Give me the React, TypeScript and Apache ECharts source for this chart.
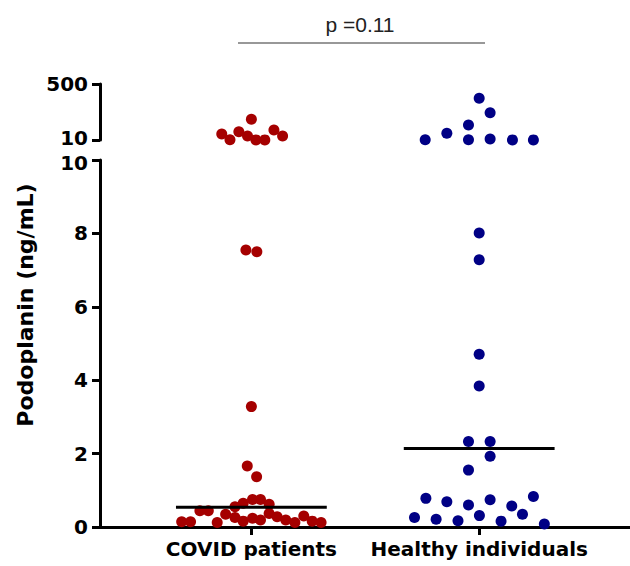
import React, { useEffect, useRef } from "react";
import * as echarts from "echarts";

const categories = ["COVID patients", "Healthy individuals"];

// COVID patients: values (ng/mL) and horizontal beeswarm offsets (category units)
const covidValues = [
  191, 62, 12, 83, 45, 11, 11, 98, 45,
  7.55, 7.5, 3.28, 1.66, 1.37,
  0.75, 0.75, 0.65, 0.55, 0.62, 0.44, 0.44, 0.35, 0.26, 0.16, 0.24,
  0.19, 0.37, 0.28, 0.19, 0.12, 0.3, 0.16, 0.12, 0.14, 0.14, 0.12,
];
const covidOffsets = [
  0.0, -0.13, -0.094, -0.055, -0.017, 0.02, 0.059, 0.099, 0.137,
  -0.024, 0.024, 0.0, -0.018, 0.023,
  0.005, 0.04, -0.036, -0.072, 0.078, -0.226, -0.189, -0.113, -0.072, -0.036, 0.005,
  0.04, 0.078, 0.113, 0.151, 0.191, 0.23, 0.267, 0.306, -0.306, -0.267, -0.15,
];

// Healthy individuals
const healthyValues = [
  375, 249, 141, 69, 12, 12, 19, 11, 11,
  8.01, 7.28, 4.71, 3.84, 2.33, 2.33, 1.93, 1.55,
  0.78, 0.69, 0.6, 0.74, 0.57, 0.83, 0.26, 0.21, 0.17, 0.31, 0.16, 0.35, 0.08,
];
const healthyOffsets = [
  0.0, 0.048, -0.047, -0.142, -0.237, -0.047, 0.048, 0.146, 0.238,
  0.0, 0.0, 0.0, 0.0, -0.047, 0.048, 0.048, -0.047,
  -0.234, -0.142, -0.047, 0.048, 0.143, 0.238, -0.284, -0.189, -0.093, 0.001, 0.096, 0.19, 0.286,
];

const centerValues = [0.54, 2.14];
const lowerTicks = [0, 2, 4, 6, 8, 10];
const upperTicks = [10, 500];
const pValueLabel = "p =0.11";
const yTitle = "Podoplanin (ng/mL)";

const COVID_COLOR = "#A50000";
const HEALTHY_COLOR = "#000085";
const BREAK = 10;
const HALF_WIDTH = 0.331;

function points(values: number[], offsets: number[], idx: number, upper: boolean) {
  const out: number[][] = [];
  values.forEach((v, i) => {
    if (upper ? v > BREAK : v <= BREAK) out.push([idx + 1 + offsets[i], v]);
  });
  return out;
}

export default function App() {
  const ref = useRef<HTMLDivElement>(null);
  useEffect(() => {
    if (!ref.current) return;
    const chart = echarts.init(ref.current, null, { renderer: "svg" });
    const boldFont = "DejaVu Sans";
    const labelStyle = {
      fontFamily: boldFont,
      fontWeight: "bold" as const,
      fontSize: 20,
      color: "#000",
    };
    const axisLine = { show: true, lineStyle: { color: "#000", width: 3 } };
    const xCommon = {
      type: "value",
      min: 0.3355,
      max: 2.662,
      splitLine: { show: false },
    };
    const scatterCommon = {
      type: "scatter",
      symbol: "circle",
      symbolSize: 11,
      clip: false,
    };
    const option: any = {
      animation: false,
      grid: [
        { left: 100, top: 84, height: 56, right: 0 },
        { left: 100, top: 160, height: 367, right: 0 },
      ],
      xAxis: [
        { ...xCommon, gridIndex: 0, show: false },
        {
          ...xCommon,
          gridIndex: 1,
          axisLine,
          axisTick: {
            show: true,
            length: 8,
            customValues: [1, 2],
            lineStyle: { color: "#000", width: 3 },
          },
          axisLabel: {
            customValues: [1, 2],
            formatter: (v: number) => categories[Math.round(v) - 1],
            ...labelStyle,
            margin: 12,
          },
        },
      ],
      yAxis: [
        {
          type: "value",
          gridIndex: 0,
          min: 10,
          max: 500,
          splitLine: { show: false },
          axisLine,
          axisTick: {
            show: true,
            length: 8,
            customValues: upperTicks,
            lineStyle: { color: "#000", width: 3 },
          },
          axisLabel: {
            customValues: upperTicks,
            ...labelStyle,
            margin: 12,
            formatter: (v: number) => (v === BREAK ? `{up|${v}}` : `${v}`),
            rich: { up: { ...labelStyle, padding: [0, 0, 5, 0] } },
          },
        },
        {
          type: "value",
          gridIndex: 1,
          min: 0,
          max: 10,
          interval: 2,
          splitLine: { show: false },
          axisLine,
          axisTick: {
            show: true,
            length: 8,
            customValues: lowerTicks,
            lineStyle: { color: "#000", width: 3 },
          },
          axisLabel: {
            customValues: lowerTicks,
            ...labelStyle,
            margin: 12,
            formatter: (v: number) => (v === BREAK ? `{dn|${v}}` : `${v}`),
            rich: { dn: { ...labelStyle, padding: [5, 0, 0, 0] } },
          },
        },
      ],
      series: [
        {
          ...scatterCommon,
          xAxisIndex: 0,
          yAxisIndex: 0,
          itemStyle: { color: COVID_COLOR, opacity: 1 },
          data: points(covidValues, covidOffsets, 0, true),
        },
        {
          ...scatterCommon,
          xAxisIndex: 0,
          yAxisIndex: 0,
          itemStyle: { color: HEALTHY_COLOR, opacity: 1 },
          data: points(healthyValues, healthyOffsets, 1, true),
        },
        {
          ...scatterCommon,
          xAxisIndex: 1,
          yAxisIndex: 1,
          itemStyle: { color: COVID_COLOR, opacity: 1 },
          data: points(covidValues, covidOffsets, 0, false),
        },
        {
          ...scatterCommon,
          xAxisIndex: 1,
          yAxisIndex: 1,
          itemStyle: { color: HEALTHY_COLOR, opacity: 1 },
          data: points(healthyValues, healthyOffsets, 1, false),
        },
        ...centerValues.map((c, i) => ({
          type: "line",
          xAxisIndex: 1,
          yAxisIndex: 1,
          symbol: "none",
          z: 5,
          lineStyle: { color: "#000", width: 3 },
          data: [
            [i + 1 - HALF_WIDTH, c],
            [i + 1 + HALF_WIDTH, c],
          ],
        })),
      ],
      graphic: [
        {
          type: "text",
          x: 25,
          y: 305,
          rotation: Math.PI / 2,
          style: {
            text: yTitle,
            fontFamily: boldFont,
            fontWeight: "bold",
            fontSize: 22,
            fill: "#000",
            align: "center",
            verticalAlign: "middle",
          },
        },
        {
          type: "text",
          x: 360,
          y: 24,
          style: {
            text: pValueLabel,
            fontFamily: "Liberation Sans",
            fontSize: 21,
            fill: "#222",
            align: "center",
            verticalAlign: "middle",
          },
        },
        {
          type: "line",
          shape: { x1: 238, y1: 43, x2: 485, y2: 43 },
          style: { stroke: "#333", lineWidth: 1.2 },
        },
      ],
    };
    chart.setOption(option);
    return () => chart.dispose();
  }, []);
  return (
    <div
      ref={ref}
      style={{ position: "fixed", left: 0, top: 0, width: 630, height: 566, background: "#fff" }}
    />
  );
}
